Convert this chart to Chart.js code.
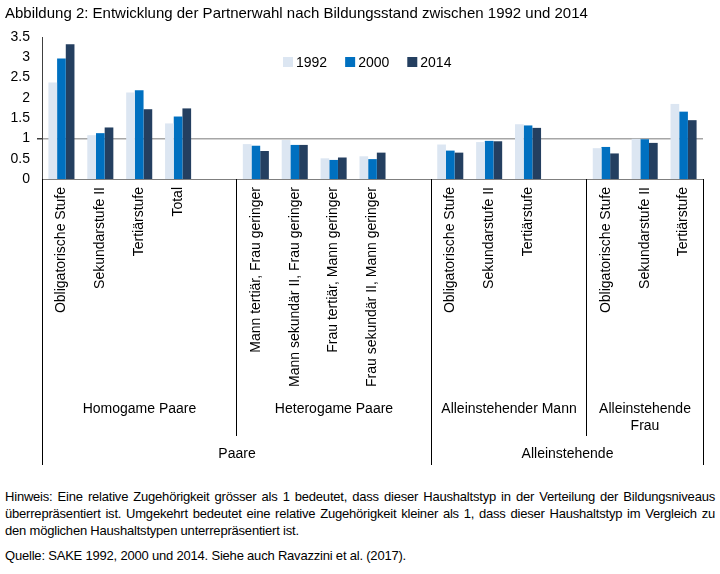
<!DOCTYPE html>
<html lang="de">
<head>
<meta charset="utf-8">
<script src="https://cdn.jsdelivr.net/npm/chart.js@4.4.1/dist/chart.umd.min.js"></script>
<style>
  body { margin: 0; background: #fff; font-family: "Liberation Sans", Arial, sans-serif; }
  #wrap { position: relative; width: 720px; height: 574px; }
  #notes { position: absolute; left: 5px; top: 488px; width: 710px; font-size: 13px; letter-spacing: -0.2px; color: #000; }
  #notes .line { line-height: 17px; white-space: nowrap; }
  #notes .just { text-align: justify; text-align-last: justify; white-space: normal; }
  #notes .src { margin-top: 8px; }
</style>
</head>
<body>
<div id="wrap">
  <canvas id="chart" width="720" height="470"></canvas>
  <div id="notes">
    <div class="line just">Hinweis: Eine relative Zugehörigkeit grösser als 1 bedeutet, dass dieser Haushaltstyp in der Verteilung der Bildungsniveaus</div>
    <div class="line just">überrepräsentiert ist. Umgekehrt bedeutet eine relative Zugehörigkeit kleiner als 1, dass dieser Haushaltstyp im Vergleich zu</div>
    <div class="line">den möglichen Haushaltstypen unterrepräsentiert ist.</div>
    <div class="line src">Quelle: SAKE 1992, 2000 und 2014. Siehe auch Ravazzini et al. (2017).</div>
  </div>
</div>
<script>
// Categories (empty strings are the spacer slots between groups)
const categories = [
    'Obligatorische Stufe', 'Sekundarstufe II', 'Tertiärstufe', 'Total', '',
    'Mann tertiär, Frau geringer', 'Mann sekundär II, Frau geringer',
    'Frau tertiär, Mann geringer', 'Frau sekundär II, Mann geringer', '',
    'Obligatorische Stufe', 'Sekundarstufe II', 'Tertiärstufe', '',
    'Obligatorische Stufe', 'Sekundarstufe II', 'Tertiärstufe'
];

const years = ['1992', '2000', '2014'];
const values1992 = [2.38, 1.08, 2.13, 1.37, null, 0.86, 0.96, 0.51, 0.56, null, 0.85, 0.91, 1.35, null, 0.76, 0.99, 1.85];
const values2000 = [2.97, 1.13, 2.19, 1.54, null, 0.82, 0.84, 0.47, 0.49, null, 0.70, 0.94, 1.32, null, 0.79, 0.98, 1.66];
const values2014 = [3.32, 1.27, 1.72, 1.74, null, 0.69, 0.84, 0.53, 0.65, null, 0.65, 0.93, 1.26, null, 0.63, 0.89, 1.45];

// Group levels (slot index ranges)
const subGroups = [
    { label: ['Homogame Paare'], from: 0, to: 5 },
    { label: ['Heterogame Paare'], from: 5, to: 10 },
    { label: ['Alleinstehender Mann'], from: 10, to: 14 },
    { label: ['Alleinstehende', 'Frau'], from: 14, to: 17 }
];
const mainGroups = [
    { label: ['Paare'], from: 0, to: 10 },
    { label: ['Alleinstehende'], from: 10, to: 17 }
];

const yTicks = [0, 0.5, 1, 1.5, 2, 2.5, 3, 3.5];
const referenceValue = 1;

const colors = ['#dce6f2', '#0070c0', '#243f60'];
const FONT = '"Liberation Sans", Arial, sans-serif';

// Legend drawn inside the plot area
const innerLegend = {
    id: 'innerLegend',
    afterDraw(chart) {
        const ctx = chart.ctx;
        ctx.save();
        ctx.font = '14px ' + FONT;
        ctx.textBaseline = 'middle';
        let x = 283;
        const y = 62;
        chart.data.datasets.forEach(ds => {
            ctx.fillStyle = ds.backgroundColor;
            ctx.fillRect(x, y - 5, 10, 10);
            ctx.fillStyle = '#000';
            ctx.fillText(ds.label, x + 13, y + 1);
            x += 13 + ctx.measureText(ds.label).width + 18;
        });
        ctx.restore();
    }
};

// Multi-level category axis: dividers and group labels
const groupAxis = {
    id: 'groupAxis',
    afterDraw(chart) {
        const ctx = chart.ctx;
        const xs = chart.scales.x;
        const half = (xs.getPixelForValue(1) - xs.getPixelForValue(0)) / 2;
        const edge = i => Math.round(xs.getPixelForValue(i) - half) + 0.5;
        const top = chart.chartArea.bottom;

        ctx.save();
        ctx.strokeStyle = '#000';
        ctx.lineWidth = 1;
        ctx.fillStyle = '#000';
        ctx.font = '14px ' + FONT;
        ctx.textAlign = 'center';
        ctx.textBaseline = 'middle';

        subGroups.forEach(g => {
            [g.from, g.to].forEach(i => {
                ctx.beginPath();
                ctx.moveTo(edge(i), top);
                ctx.lineTo(edge(i), top + 257);
                ctx.stroke();
            });
            const cx = (edge(g.from) + edge(g.to)) / 2;
            g.label.forEach((t, k) => ctx.fillText(t, cx, top + 230 + k * 17));
        });
        mainGroups.forEach(g => {
            [g.from, g.to].forEach(i => {
                ctx.beginPath();
                ctx.moveTo(edge(i), top);
                ctx.lineTo(edge(i), top + 286);
                ctx.stroke();
            });
            const cx = (edge(g.from) + edge(g.to)) / 2;
            g.label.forEach((t, k) => ctx.fillText(t, cx, top + 275 + k * 17));
        });
        ctx.restore();
    }
};

const datasets = [values1992, values2000, values2014].map((vals, i) => ({
    label: years[i],
    data: vals,
    backgroundColor: colors[i],
    borderWidth: 0,
    categoryPercentage: 0.67,
    barPercentage: 1.0
}));

new Chart(document.getElementById('chart'), {
    type: 'bar',
    data: { labels: categories, datasets: datasets },
    options: {
        responsive: false,
        animation: false,
        layout: { padding: { left: 5, right: 17, top: 0, bottom: 0 } },
        plugins: {
            legend: { display: false },
            tooltip: { enabled: false },
            title: {
                display: true,
                text: 'Abbildung 2: Entwicklung der Partnerwahl nach Bildungsstand zwischen 1992 und 2014',
                align: 'start',
                color: '#000',
                font: { family: FONT, size: 15, weight: 'normal', lineHeight: 1.2 },
                padding: { top: 5, bottom: 14 }
            }
        },
        scales: {
            x: {
                grid: { display: false, drawTicks: false },
                border: { display: true, color: '#7f7f7f', width: 1 },
                ticks: {
                    autoSkip: false,
                    minRotation: 90,
                    maxRotation: 90,
                    padding: 8,
                    color: '#000',
                    font: { family: FONT, size: 14 }
                },
                afterFit(scale) { scale.height = 470 - 179; }
            },
            y: {
                min: 0,
                max: 3.5,
                afterBuildTicks(scale) { scale.ticks = yTicks.map(v => ({ value: v })); },
                grid: {
                    drawOnChartArea: true,
                    color: ctx => (ctx.tick && ctx.tick.value === referenceValue) ? '#a6a6a6' : 'rgba(0,0,0,0)',
                    lineWidth: ctx => (ctx.tick && ctx.tick.value === referenceValue) ? 1.5 : 0,
                    tickColor: '#404040',
                    tickLength: 5
                },
                border: { display: true, color: '#404040', width: 1 },
                ticks: {
                    padding: 7,
                    color: '#000',
                    font: { family: FONT, size: 14 },
                    callback: v => String(v)
                },
                afterFit(scale) { scale.width = 37; }
            }
        }
    },
    plugins: [innerLegend, groupAxis]
});
</script>
</body>
</html>
